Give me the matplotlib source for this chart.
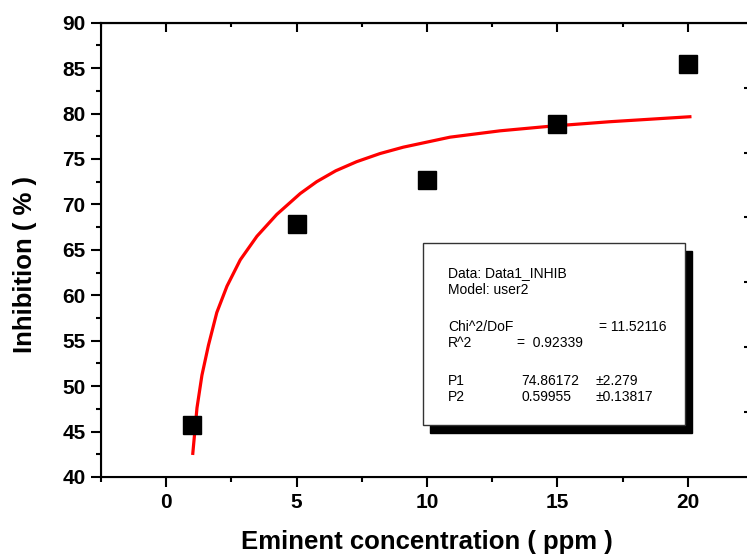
import matplotlib
matplotlib.use("Agg")
import matplotlib.pyplot as plt
from matplotlib.patches import Rectangle
from matplotlib.ticker import MultipleLocator

plt.rcParams['font.family'] = ['Liberation Sans', 'DejaVu Sans']

# measured points
conc = [1, 5, 10, 15, 20]
inhib = [45.7, 67.8, 72.7, 78.9, 85.4]

# fitted curve
fit_x = [1.02, 1.18, 1.37, 1.62, 1.94, 2.33, 2.84, 3.48, 4.24, 5.14,
         5.77, 6.5, 7.3, 8.2, 9.09, 10.88, 12.8, 14.7, 17.0, 20.08]
fit_y = [42.6, 47.6, 51.2, 54.5, 58.1, 61.0, 63.9, 66.5, 68.9, 71.2,
         72.5, 73.7, 74.7, 75.6, 76.3, 77.4, 78.1, 78.6, 79.1, 79.65]

xticks = [0, 5, 10, 15, 20]
yticks = [40, 45, 50, 55, 60, 65, 70, 75, 80, 85, 90]

box_lines = [
    ("Data: Data1_INHIB", None, None),
    ("Model: user2", None, None),
    ("Chi^2/DoF", "= 11.52116", None),
    ("R^2", "=  0.92339", None),
    ("P1", "74.86172", "\u00b12.279"),
    ("P2", "0.59955", "\u00b10.13817"),
]

fig = plt.figure(figsize=(7.47, 5.6), dpi=100)
ax = fig.add_axes([101 / 747, 83 / 560, 652 / 747, 454.3 / 560])

ax.plot(fit_x, fit_y, color='red', lw=2.3, solid_joinstyle='round', zorder=3)
ax.plot(conc, inhib, 's', color='black', ms=12.5, zorder=4)

ax.set_xlim(-2.5, 22.5)
ax.set_ylim(40, 90)
ax.set_xticks(xticks)
ax.set_yticks(yticks)
ax.xaxis.set_minor_locator(MultipleLocator(2.5))
ax.yaxis.set_minor_locator(MultipleLocator(2.5))

for s in ax.spines.values():
    s.set_linewidth(1.5)

ax.tick_params(which='major', direction='out', length=7.2, width=1.5,
               labelsize=15, pad=4)
ax.tick_params(which='minor', direction='out', length=3.6, width=1.5)
for lab in ax.get_xticklabels() + ax.get_yticklabels():
    lab.set_fontweight('bold')

# top ticks pointing inward
top = ax.secondary_xaxis('top')
top.set_xticks(xticks)
top.xaxis.set_minor_locator(MultipleLocator(2.5))
top.tick_params(which='major', direction='in', length=6.5, width=1.5, labeltop=False)
top.tick_params(which='minor', direction='in', length=3, width=1.5)
top.spines['top'].set_linewidth(1.5)

# right axis ticks (separate scale)
rax = ax.twinx()
rax.set_ylim(0, 7)
rax.set_yticks(range(1, 7))
rax.tick_params(direction='in', length=6.5, width=1.5, labelright=False)
rax.spines['right'].set_linewidth(1.5)

ax.set_xlabel("Eminent concentration ( ppm )", fontsize=18.5, fontweight='bold')
ax.xaxis.set_label_coords(0.5, -0.117)
ax.set_ylabel("Inhibition ( % )", fontsize=18.5, fontweight='bold')
ax.yaxis.set_label_coords(-0.098, 0.467)

# fit result box with shadow
bx0, by0, bx1, by1 = 0.4934, 0.1145, 0.8957, 0.5144
dx, dy = 0.0107, 0.0176
ax.add_patch(Rectangle((bx0 + dx, by0 - dy), bx1 - bx0, by1 - by0,
                       transform=ax.transAxes, facecolor='black',
                       edgecolor='black', clip_on=False, zorder=5))
ax.add_patch(Rectangle((bx0, by0), bx1 - bx0, by1 - by0,
                       transform=ax.transAxes, facecolor='white',
                       edgecolor='#333333', lw=1, clip_on=False, zorder=6))

line_y = [0.4484, 0.4116, 0.3309, 0.2943, 0.2113, 0.1768]
col2_x = {2: 0.7643, 3: 0.6376, 4: 0.6452, 5: 0.6452}
for i, (a, b, c) in enumerate(box_lines):
    ax.text(0.5327, line_y[i], a, transform=ax.transAxes, fontsize=10,
            va='center', ha='left', zorder=7)
    if b is not None:
        ax.text(col2_x[i], line_y[i], b, transform=ax.transAxes, fontsize=10,
                va='center', ha='left', zorder=7)
    if c is not None:
        ax.text(0.7577, line_y[i], c, transform=ax.transAxes, fontsize=10,
                va='center', ha='left', zorder=7)

fig.savefig("out.png", dpi=100)
